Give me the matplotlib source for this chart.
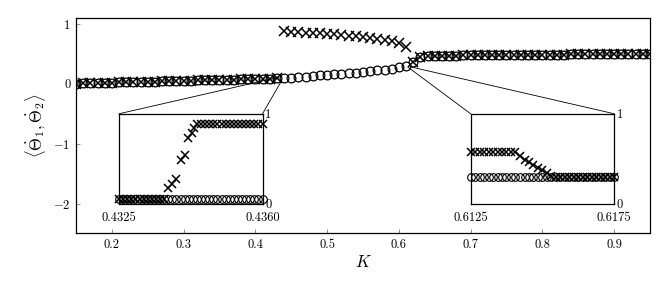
import matplotlib
matplotlib.use("Agg")
import matplotlib.pyplot as plt
from matplotlib.patches import ConnectionPatch

plt.rcParams["font.family"] = "serif"
plt.rcParams["font.serif"] = ["cmr10", "DejaVu Serif"]
plt.rcParams["mathtext.fontset"] = "cm"
plt.rcParams["axes.formatter.use_mathtext"] = True
plt.rcParams["axes.unicode_minus"] = True

# main sweep in K
k_main = [0.15, 0.16, 0.17, 0.18, 0.19, 0.20, 0.21, 0.22, 0.23, 0.24,
          0.25, 0.26, 0.27, 0.28, 0.29, 0.30, 0.31, 0.32, 0.33, 0.34,
          0.35, 0.36, 0.37, 0.38, 0.39, 0.40, 0.41, 0.42, 0.43, 0.44,
          0.45, 0.46, 0.47, 0.48, 0.49, 0.50, 0.51, 0.52, 0.53, 0.54,
          0.55, 0.56, 0.57, 0.58, 0.59, 0.60, 0.61, 0.62, 0.63, 0.64,
          0.65, 0.66, 0.67, 0.68, 0.69, 0.70, 0.71, 0.72, 0.73, 0.74,
          0.75, 0.76, 0.77, 0.78, 0.79, 0.80, 0.81, 0.82, 0.83, 0.84,
          0.85, 0.86, 0.87, 0.88, 0.89, 0.90, 0.91, 0.92, 0.93, 0.94,
          0.95]
theta1_main = [0.005, 0.008, 0.011, 0.014, 0.017, 0.020, 0.023, 0.026, 0.029, 0.032,
               0.035, 0.038, 0.041, 0.044, 0.047, 0.050, 0.053, 0.056, 0.059, 0.062,
               0.065, 0.068, 0.071, 0.074, 0.077, 0.080, 0.083, 0.086, 0.090, 0.097,
               0.105, 0.113, 0.121, 0.130, 0.139, 0.148, 0.157, 0.167, 0.177, 0.188,
               0.200, 0.212, 0.225, 0.239, 0.255, 0.275, 0.300, 0.360, 0.455, 0.462,
               0.466, 0.469, 0.471, 0.473, 0.475, 0.476, 0.477, 0.478, 0.479, 0.480,
               0.481, 0.482, 0.483, 0.484, 0.485, 0.486, 0.487, 0.488, 0.489, 0.490,
               0.490, 0.491, 0.491, 0.492, 0.492, 0.493, 0.493, 0.494, 0.494, 0.495,
               0.495]
theta2_main = [0.005, 0.008, 0.011, 0.014, 0.017, 0.020, 0.023, 0.026, 0.029, 0.032,
               0.035, 0.038, 0.041, 0.044, 0.047, 0.050, 0.053, 0.056, 0.059, 0.062,
               0.065, 0.068, 0.071, 0.074, 0.077, 0.080, 0.083, 0.086, 0.090, 0.875,
               0.870, 0.865, 0.857, 0.850, 0.845, 0.836, 0.826, 0.815, 0.803, 0.792,
               0.780, 0.766, 0.750, 0.731, 0.710, 0.680, 0.620, 0.360, 0.455, 0.462,
               0.466, 0.469, 0.471, 0.473, 0.475, 0.476, 0.477, 0.478, 0.479, 0.480,
               0.481, 0.482, 0.483, 0.484, 0.485, 0.486, 0.487, 0.488, 0.489, 0.490,
               0.490, 0.491, 0.491, 0.492, 0.492, 0.493, 0.493, 0.494, 0.494, 0.495,
               0.495]

# left inset: K in [0.4325, 0.4360]
k_in1 = [0.4325, 0.4326, 0.4327, 0.4328, 0.4329, 0.4330, 0.4331, 0.4332, 0.4333,
         0.4334, 0.4335, 0.4336, 0.4337, 0.4338, 0.4339, 0.4340, 0.4341, 0.4342,
         0.4343, 0.4344, 0.4345, 0.4346, 0.4347, 0.4348, 0.4349, 0.4350, 0.4351,
         0.4352, 0.4353, 0.4354, 0.4355, 0.4356, 0.4357, 0.4358, 0.4359, 0.4360]
theta1_in1 = [0.05] * 36
k_in1_x = [0.4325, 0.4326, 0.4327, 0.4328, 0.4329, 0.4330, 0.4331, 0.4332, 0.4333,
           0.4334, 0.4335, 0.4336, 0.43370, 0.43378, 0.43389, 0.43402, 0.43410,
           0.43419, 0.43427, 0.43433, 0.4344, 0.4345, 0.4346, 0.4347, 0.4348, 0.4349,
           0.4350, 0.4351, 0.4352, 0.4353, 0.4354, 0.4355, 0.4356, 0.4357, 0.4358,
           0.4359, 0.4360]
theta2_in1 = [0.05, 0.05, 0.05, 0.05, 0.05, 0.05, 0.05, 0.05, 0.05,
              0.05, 0.05, 0.05, 0.17, 0.22, 0.27, 0.48, 0.54,
              0.73, 0.79, 0.84, 0.89, 0.89, 0.89, 0.89, 0.89, 0.89,
              0.89, 0.89, 0.89, 0.89, 0.89, 0.89, 0.89, 0.89, 0.89,
              0.89, 0.89]

# right inset: K in [0.6125, 0.6175]
k_in2 = [0.61250, 0.61266, 0.61281, 0.61297, 0.61313, 0.61328, 0.61344, 0.61359,
         0.61375, 0.61391, 0.61406, 0.61422, 0.61438, 0.61453, 0.61469, 0.61484,
         0.61500, 0.61516, 0.61531, 0.61547, 0.61563, 0.61578, 0.61594, 0.61609,
         0.61625, 0.61641, 0.61656, 0.61672, 0.61688, 0.61703, 0.61719, 0.61734,
         0.61750]
theta1_in2 = [0.29] * 33
theta2_in2 = [0.57, 0.57, 0.57, 0.57, 0.57, 0.57, 0.57, 0.57,
              0.57, 0.57, 0.57, 0.53, 0.49, 0.46, 0.43, 0.40,
              0.37, 0.34, 0.31, 0.29, 0.29, 0.29, 0.29, 0.29,
              0.29, 0.29, 0.29, 0.29, 0.29, 0.29, 0.29, 0.29,
              0.29]

circ = dict(ls="none", marker="o", mfc="none", mec="black", mew=0.9, ms=6.3)
cross = dict(ls="none", marker="x", color="black", mew=1.1, ms=6.5)

fig = plt.figure(figsize=(6.69, 2.90), dpi=100)
ax = fig.add_axes([0.1136, 0.195, 0.858, 0.743])
ax.plot(k_main, theta1_main, **circ)
ax.plot(k_main, theta2_main, **cross)
ax.set_xlim(0.15, 0.95)
ax.set_ylim(-2.5, 1.1)
ax.set_xticks([0.2, 0.3, 0.4, 0.5, 0.6, 0.7, 0.8, 0.9])
ax.set_xticklabels(["0.2", "0.3", "0.4", "0.5", "0.6", "0.7", "0.8", "0.9"])
ax.set_yticks([-2, -1, 0, 1])
ax.set_yticklabels([r"$-2$", r"$-1$", "0", "1"])
ax.tick_params(direction="in", length=3, width=0.6, color="0.5", labelsize=9, pad=4)
ax.set_xlabel(r"$K$", fontsize=12, labelpad=2)
ax.set_ylabel(r"$\langle\dot{\Theta}_1,\dot{\Theta}_2\rangle$", fontsize=12, labelpad=4)
for s in ax.spines.values():
    s.set_linewidth(0.9)

insets = [
    ([0.21, -2.0, 0.2, 1.5], k_in1, theta1_in1, k_in1_x, theta2_in1,
     (0.4325, 0.4360), ["0.4325", "0.4360"], [(0.4325, 0.11), (0.4360, 0.04)]),
    ([0.70, -2.0, 0.2, 1.5], k_in2, theta1_in2, k_in2, theta2_in2,
     (0.6125, 0.6175), ["0.6125", "0.6175"], [(0.6125, 0.28), (0.6175, 0.28)]),
]
for bounds, kc, yc, kx, yx, xl, xlab, ends in insets:
    axi = ax.inset_axes(bounds, transform=ax.transData)
    axi.plot(kc, yc, ls="none", marker="o", mfc="none", mec="black", mew=0.8, ms=5.5,
             clip_on=False)
    axi.plot(kx, yx, ls="none", marker="x", color="black", mew=1.1, ms=6.0, clip_on=False)
    axi.set_xlim(*xl)
    axi.set_ylim(0, 1)
    axi.set_xticks(list(xl))
    axi.set_xticklabels(xlab)
    axi.set_yticks([0, 1])
    axi.set_yticklabels(["0", "1"])
    axi.yaxis.tick_right()
    axi.tick_params(length=0, labelsize=9, pad=2)
    axi.tick_params(axis="x", pad=6)
    for s in axi.spines.values():
        s.set_linewidth(0.9)
    for frac, pt in zip([(0, 1), (1, 1)], ends):
        con = ConnectionPatch(xyA=frac, coordsA=axi.transAxes, xyB=pt, coordsB=ax.transData,
                              color="black", lw=0.6)
        fig.add_artist(con)

fig.savefig("out.png", dpi=100)
